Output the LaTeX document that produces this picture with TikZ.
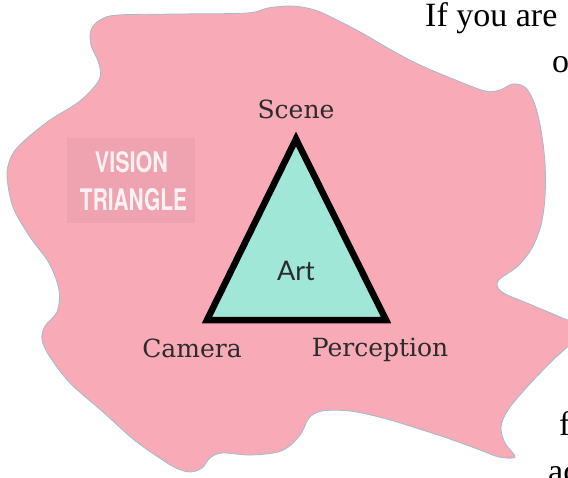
\documentclass[tikz,border=0pt]{standalone}
\usepackage{fontspec}
\setmainfont{Liberation Serif}
\newfontfamily\labelfont{DejaVu Serif}
\newfontfamily\artfont{Lato}
\newfontfamily\tagfont{TeX Gyre Heros}
\definecolor{blobpink}{HTML}{F9AAB7}
\definecolor{boxpink}{HTML}{EFA2AF}
\definecolor{blobedge}{HTML}{9FBCCB}
\definecolor{mint}{HTML}{A0E7D7}
\definecolor{labeltext}{HTML}{2B2B2B}
\definecolor{tagtext}{HTML}{FDF1F3}
\begin{document}
\begin{tikzpicture}[x=1pt,y=-1pt,
  lbl/.style={font=\labelfont\fontsize{25}{30}\selectfont, text=labeltext, inner sep=0pt, anchor=base},
  side/.style={font=\fontsize{34}{40}\selectfont, inner sep=0pt, anchor=base west},
  tagline/.style={text=tagtext, inner sep=0pt}]
\useasboundingbox (0,0) rectangle (568,477);
\clip (0,0) rectangle (568,477);
% blob
\draw[fill=blobpink, draw=blobedge, line width=0.8pt]
  plot[smooth cycle, tension=0.55] coordinates {
  (100,20) (118,15) (180,14) (247,13) (268,8) (292,6) (315,10) (335,19)
  (362,33) (393,51) (420,65) (453,79) (485,91) (500,90) (513,84) (526,88)
  (535,105) (541,130) (545,163) (545,197) (541,225) (532,248) (518,266)
  (498,281) (502,292) (527,303) (560,317) (578,326) (572,342) (553,360)
  (527,387) (508,410) (501,427) (505,443) (515,457) (499,457) (480,450)
  (447,438) (413,427) (383,418) (350,411) (322,411) (309,418) (302,432)
  (292,444) (278,452) (250,455) (222,453) (210,458) (202,468) (190,472)
  (176,468) (158,457) (133,439) (103,412) (70,383) (50,357) (42,340)
  (45,326) (57,312) (59,290) (49,263) (30,237) (13,207) (7,175) (12,155)
  (25,140) (50,120) (80,101) (99,80) (99,64) (91,45) (91,30)};
% vision triangle tag
\node[fill=boxpink, minimum width=128pt, minimum height=85pt, inner sep=0pt] (tag) at (131,180.5) {};
\node[tagline] (tag1) at (131.5,162.5) {\resizebox{73pt}{21pt}{\tagfont\bfseries VISION}};
\node[tagline] (tag2) at (133.5,200) {\resizebox{107pt}{22pt}{\tagfont\bfseries TRIANGLE}};
% triangle
\coordinate (S) at (296,139);
\coordinate (C) at (207,320);
\coordinate (P) at (386,320);
\draw[fill=mint, line width=6.5pt, line join=miter] (S) -- (C) -- (P) -- cycle;
\node[lbl] (scene) at (296,118) {Scene};
\node[lbl] (camera) at (192,357) {Camera};
\node[lbl] (perc) at (380,356) {Perception};
\node[font=\artfont\fontsize{27}{32}\selectfont, text=labeltext, inner sep=0pt, anchor=base] (art) at (296,280) {Art};
% cut-off text on the right
\node[side] (t1) at (425,26) {If you are};
\node[side] (t2) at (552,72) {o};
\node[side] (t3) at (559,435) {f};
\node[side] (t4) at (548,482) {ac};
\end{tikzpicture}
\end{document}
